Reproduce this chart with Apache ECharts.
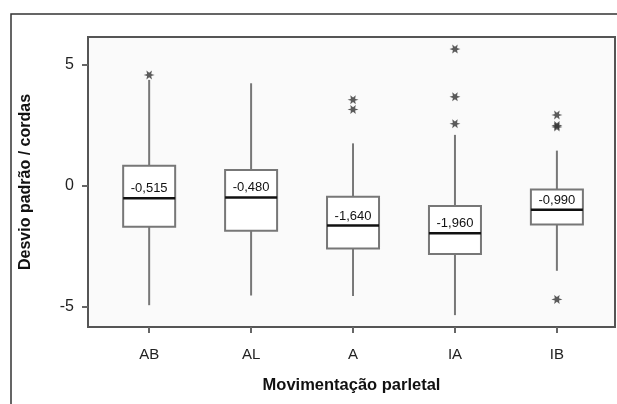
<!DOCTYPE html>
<html>
<head>
<meta charset="utf-8">
<script src="https://cdn.jsdelivr.net/npm/echarts@6/dist/echarts.min.js"></script>
<style>
    html, body { margin: 0; padding: 0; background: #fff; }
    #chart { width: 617px; height: 404px; }
</style>
</head>
<body>
<div id="chart"></div>
<script>
    // categorias e estatísticas
    var categories = ['AB', 'AL', 'A', 'IA', 'IB'];
    var whiskerLow = [-4.93, -4.53, -4.55, -5.34, -3.51];
    var q1 = [-1.69, -1.86, -2.59, -2.82, -1.60];
    var median = [-0.515, -0.480, -1.640, -1.960, -0.990];
    var q3 = [0.83, 0.65, -0.45, -0.84, -0.15];
    var whiskerHigh = [4.37, 4.23, 1.75, 2.10, 1.45];
    // [índice da categoria, valor]
    var outliers = [[0, 4.57], [2, 3.55], [2, 3.15], [3, 5.64], [3, 3.67], [3, 2.56], [4, 2.92], [4, 2.49], [4, 2.43], [4, -4.69]];
    var yTicks = [-5, 0, 5];

    var font = 'Liberation Sans';
    var starPath = 'path://M10,5 L6.9,4 L7.5,0.67 L5,2.8 L2.5,0.67 L3.1,4 L0,5 L3.1,6 L2.5,9.33 L5,7.2 L7.5,9.33 L6.9,6 Z';

    var boxData = categories.map(function (c, i) {
        return [i, whiskerLow[i], q1[i], median[i], q3[i], whiskerHigh[i]];
    });

    var myChart = echarts.init(document.getElementById('chart'));
    var option = {
        animation: false,
        graphic: [{
            type: 'rect',
            shape: { x: 11, y: 14, width: 700, height: 500 },
            style: { fill: 'none', stroke: '#333', lineWidth: 1.5 },
            silent: true
        }],
        grid: {
            left: 88,
            top: 37,
            right: 2,
            bottom: 77,
            show: true,
            backgroundColor: '#fafafa',
            borderColor: '#555',
            borderWidth: 2
        },
        xAxis: {
            type: 'value',
            min: -0.6,
            max: 4.57,
            name: 'Movimentação parletal',
            nameLocation: 'middle',
            nameGap: 50,
            nameTextStyle: { fontFamily: font, fontSize: 16.5, fontWeight: 'bold', color: '#111' },
            axisLine: { show: false, onZero: false },
            axisTick: {
                show: true,
                length: 6,
                customValues: [0, 1, 2, 3, 4],
                lineStyle: { color: '#666', width: 2 }
            },
            axisLabel: {
                customValues: [0, 1, 2, 3, 4],
                formatter: function (v) { return categories[Math.round(v)]; },
                fontFamily: font,
                fontSize: 15,
                color: '#222',
                margin: 20
            },
            splitLine: { show: false }
        },
        yAxis: {
            type: 'value',
            min: -5.83,
            max: 6.14,
            name: 'Desvio padrão / cordas',
            nameLocation: 'middle',
            nameGap: 54,
            nameTextStyle: { fontFamily: font, fontSize: 16, fontWeight: 'bold', color: '#111' },
            axisLine: { show: false, onZero: false },
            axisTick: {
                show: true,
                length: 6,
                customValues: yTicks,
                lineStyle: { color: '#666', width: 2 }
            },
            axisLabel: {
                customValues: yTicks,
                fontFamily: font,
                fontSize: 16,
                color: '#222',
                margin: 14
            },
            splitLine: { show: false }
        },
        series: [{
            type: 'custom',
            data: boxData,
            renderItem: function (params, api) {
                var x = api.value(0);
                var pLow = api.coord([x, api.value(1)]);
                var pQ1 = api.coord([x, api.value(2)]);
                var pMed = api.coord([x, api.value(3)]);
                var pQ3 = api.coord([x, api.value(4)]);
                var pHigh = api.coord([x, api.value(5)]);
                var half = 26;
                var txt = api.value(3).toFixed(3).replace('.', ',');
                return {
                    type: 'group',
                    children: [
                        { type: 'line', shape: { x1: pLow[0], y1: pLow[1], x2: pQ1[0], y2: pQ1[1] }, style: { stroke: '#777', lineWidth: 2 } },
                        { type: 'line', shape: { x1: pQ3[0], y1: pQ3[1], x2: pHigh[0], y2: pHigh[1] }, style: { stroke: '#777', lineWidth: 2 } },
                        { type: 'rect', shape: { x: pQ3[0] - half, y: pQ3[1], width: half * 2, height: pQ1[1] - pQ3[1] }, style: { fill: '#fff', stroke: '#777', lineWidth: 2 } },
                        { type: 'line', shape: { x1: pMed[0] - half, y1: pMed[1], x2: pMed[0] + half, y2: pMed[1] }, style: { stroke: '#111', lineWidth: 2.5 } },
                        { type: 'text', style: { text: txt, x: pMed[0], y: pMed[1] - 3, align: 'center', verticalAlign: 'bottom', fontFamily: font, fontSize: 13, fill: '#111' } }
                    ]
                };
            },
            z: 2
        }, {
            type: 'scatter',
            data: outliers,
            symbol: starPath,
            symbolSize: [11, 9],
            itemStyle: { color: '#333' },
            z: 3
        }]
    };
    myChart.setOption(option);
    window.addEventListener('resize', function () {
        myChart.resize();
    });
</script>
</body>
</html>
